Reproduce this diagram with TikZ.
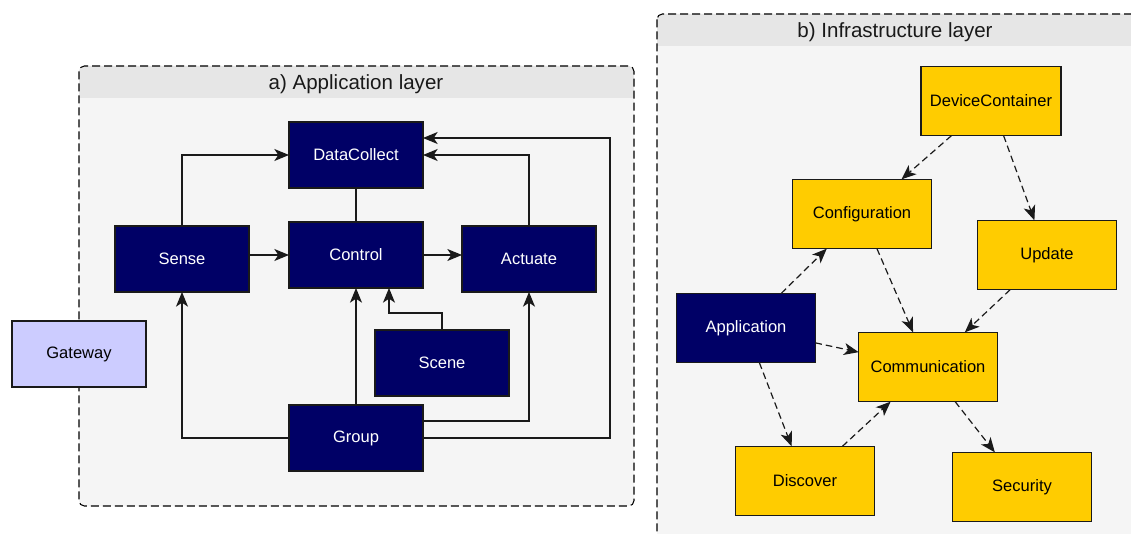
\documentclass[tikz,border=0pt]{standalone}
\usepackage{fontspec}
\setmainfont{Liberation Sans}
\usetikzlibrary{arrows.meta,calc}
\definecolor{navy}{HTML}{000066}
\definecolor{gold}{HTML}{FFCC00}
\definecolor{lav}{HTML}{CCCCFF}
\definecolor{grpbg}{HTML}{F5F5F5}
\definecolor{grphd}{HTML}{E6E6E6}
\definecolor{edge}{HTML}{1A1A1A}
\tikzset{
  box/.style={draw=edge,line width=0.9pt,inner sep=0pt,outer sep=0pt,font=\fontsize{12.4}{14}\selectfont},
  abox/.style={box,fill=navy,text=white,minimum width=100.5pt,minimum height=49.5pt},
  bbox/.style={box,fill=gold,text=black,minimum width=104pt,minimum height=52pt},
  tip/.tip={Stealth[length=11pt,width=9pt,inset=3pt]},
  arr/.style={draw=edge,line width=0.9pt,-tip},
  darr/.style={arr,dash pattern=on 5pt off 3pt},
  plain/.style={draw=edge,line width=0.9pt},
  grp/.style={draw=black,line width=0.8pt,dash pattern=on 6pt off 3pt,rounded corners=4pt},
  ttl/.style={font=\fontsize{15.4}{18}\selectfont,text=black!90}
}
\begin{document}
\begin{tikzpicture}[x=0.75pt,y=-0.75pt]
\clip (0,0) rectangle (1131,534);
\fill[white] (0,0) rectangle (1131,534);
% group a
\fill[grpbg,rounded corners=4pt] (79,66) rectangle (634,506);
\fill[grphd,rounded corners=4pt] (79,66) rectangle (634,80);
\fill[grphd] (79,75) rectangle (634,98);
\draw[grp] (79,66) rectangle (634,506);
\node[ttl] (ta) at (356,84) {a) Application layer};
% group b
\fill[grpbg,rounded corners=4pt] (657,14) rectangle (1145,550);
\fill[grphd,rounded corners=4pt] (657,14) rectangle (1145,30);
\fill[grphd] (657,24) rectangle (1145,46);
\draw[grp] (657,14) rectangle (1145,550);
\node[ttl] (tb) at (895,32) {b) Infrastructure layer};
% nodes a
\node[abox] (dc) at (356,155) {DataCollect};
\node[abox] (sense) at (182,259) {Sense};
\node[abox] (ctrl) at (356,255) {Control};
\node[abox] (act) at (529,259) {Actuate};
\node[abox] (scene) at (442,363) {Scene};
\node[abox] (group) at (356,438) {Group};
\node[abox,fill=lav,text=black] (gw) at (79,354) {Gateway};
% edges a
\draw[arr] (sense.north) |- (dc.west);
\draw[plain] (ctrl.north) -- (dc.south);
\draw[arr] (act.north) |- (dc.east);
\draw[arr] (group.east) -- ++(187,0) |- ($(dc.east)+(0,-17)$);
\draw[arr] (sense.east |- ctrl.west) -- (ctrl.west);
\draw[arr] (ctrl.east) -- (ctrl.east -| act.west);
\draw[arr] (group.north) -- (ctrl.south);
\draw[arr] (scene.north) -- ++(0,-17) -| ($(ctrl.south)+(33,0)$);
\draw[arr] ($(group.east)+(0,-17)$) -| (act.south);
\draw[arr] (group.west) -| (sense.south);
% nodes b
\node[bbox,minimum width=105pt] (devc) at (991,101) {DeviceContainer};
\node[bbox] (conf) at (862,214) {Configuration};
\node[bbox] (upd) at (1047,255) {Update};
\node[bbox,fill=navy,text=white] (app) at (746,328) {Application};
\node[bbox] (comm) at (928,367) {Communication};
\node[bbox] (disc) at (805,481) {Discover};
\node[bbox] (sec) at (1022,487) {Security};
% edges b
\draw[darr] (devc) -- (conf);
\draw[darr] (devc) -- (upd);
\draw[darr] (app) -- (conf);
\draw[darr] (conf) -- (comm);
\draw[darr] (upd) -- (comm);
\draw[darr] (app) -- (comm);
\draw[darr] (app) -- (disc);
\draw[darr] (disc) -- (comm);
\draw[darr] (comm) -- (sec);
\end{tikzpicture}
\end{document}
